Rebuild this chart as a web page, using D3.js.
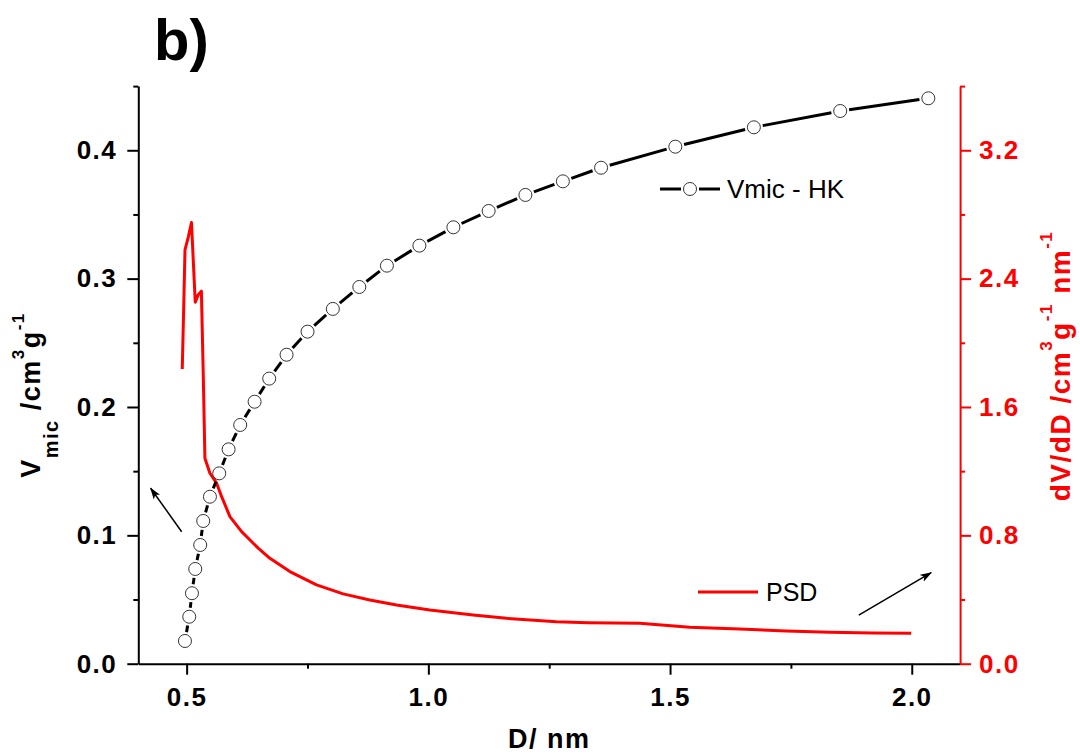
<!DOCTYPE html>
<html>
<head>
<meta charset="utf-8">
<script src="https://cdn.jsdelivr.net/npm/d3@7"></script>
<style>
  body { margin: 0; background: #fff; }
  svg { display: block; font-family: "Liberation Sans", Arial, sans-serif; }
</style>
</head>
<body>
<svg id="chart" width="1080" height="754"></svg>
<script>
// Horvath-Kawazoe cumulative micropore volume, cm3/g, against pore width D (nm)
const hkD = [0.4965, 0.5054, 0.5110, 0.5178, 0.5281, 0.5343, 0.5482, 0.5674, 0.5868,
             0.6108, 0.6406, 0.6708, 0.7067, 0.7501, 0.8024, 0.8572, 0.9143, 0.9815,
             1.0518, 1.1247, 1.2008, 1.2783, 1.3573, 1.5109, 1.6734, 1.8520, 2.0343];
const hkV = [0.0177, 0.0366, 0.0549, 0.0738, 0.0925, 0.1112, 0.1301, 0.1483, 0.1670,
             0.1860, 0.2041, 0.2221, 0.2407, 0.2587, 0.2764, 0.2935, 0.3101, 0.3257,
             0.3400, 0.3527, 0.3652, 0.3758, 0.3864, 0.4028, 0.4179, 0.4306, 0.4405];

// Pore size distribution dV/dD, cm3 g-1 nm-1
const psdD = [0.4909, 0.4938, 0.4966, 0.5035, 0.5100, 0.5178, 0.5240, 0.5305, 0.5343,
              0.5378, 0.5482, 0.5620, 0.5724, 0.5895, 0.6137, 0.6480, 0.6722, 0.7135,
              0.7687, 0.8237, 0.8789, 0.9341, 1.0030, 1.0925, 1.1615, 1.2649, 1.3302,
              1.4371, 1.5405, 1.6439, 1.7404, 1.8299, 1.9194, 1.9988];
const psdVal = [1.837, 2.205, 2.580, 2.660, 2.750, 2.253, 2.300, 2.322, 1.812,
                1.281, 1.187, 1.125, 1.041, 0.917, 0.823, 0.720, 0.657, 0.574,
                0.491, 0.435, 0.397, 0.366, 0.335, 0.304, 0.283, 0.262, 0.256,
                0.252, 0.227, 0.216, 0.204, 0.196, 0.191, 0.190];

// Axis ticks
const xTicks = [0.5, 1.0, 1.5, 2.0];
const xMinor = [0.75, 1.25, 1.75];
const yLeftTicks = [0.0, 0.1, 0.2, 0.3, 0.4];
const yLeftMinor = [0.05, 0.15, 0.25, 0.35, 0.45];
const yRightTicks = [0.0, 0.8, 1.6, 2.4, 3.2];
const yRightMinor = [0.4, 1.2, 2.0, 2.8, 3.6];

// Arrows pointing each curve to its axis: [D0, v0, D1, v1] in left-axis units
const arrowLeft = [0.4897, 0.1028, 0.4256, 0.1367];
const arrowRight = [1.8904, 0.0379, 2.0401, 0.0709];

const RED = "#ff0000";
const svg = d3.select("#chart");

const plot = { left: 138.3, right: 960.1, top: 86.1, bottom: 663.7 };
const x = d3.scaleLinear().domain([0.4, 2.1]).range([plot.left, plot.right]);
const yL = d3.scaleLinear().domain([0, 0.45]).range([plot.bottom, plot.top]);
const yR = d3.scaleLinear().domain([0, 3.6]).range([plot.bottom, plot.top]);

const fmt = d3.format(".1f");
const tickFont = (g, color) => {
  g.selectAll("text")
    .attr("fill", color)
    .style("font-size", "26px")
    .style("font-weight", "bold")
    .style("letter-spacing", "1.5px");
  g.selectAll("line").attr("stroke", color).attr("stroke-width", 2);
  g.select(".domain").attr("stroke", color).attr("stroke-width", 2);
};

// Bottom axis
const gx = svg.append("g").attr("transform", `translate(0,${plot.bottom})`)
  .call(d3.axisBottom(x).tickValues(xTicks).tickFormat(fmt)
    .tickSize(11).tickSizeOuter(0).tickPadding(13));
tickFont(gx, "#000");
svg.append("g").attr("transform", `translate(0,${plot.bottom})`)
  .call(d3.axisBottom(x).tickValues(xMinor).tickFormat("").tickSize(5).tickSizeOuter(0))
  .call(g => { g.select(".domain").remove(); g.selectAll("line").attr("stroke", "#000").attr("stroke-width", 2); });

// Left axis
const gl = svg.append("g").attr("transform", `translate(${plot.left},0)`)
  .call(d3.axisLeft(yL).tickValues(yLeftTicks).tickFormat(fmt)
    .tickSize(11).tickSizeOuter(0).tickPadding(10));
tickFont(gl, "#000");
svg.append("g").attr("transform", `translate(${plot.left},0)`)
  .call(d3.axisLeft(yL).tickValues(yLeftMinor).tickFormat("").tickSize(5).tickSizeOuter(0))
  .call(g => { g.select(".domain").remove(); g.selectAll("line").attr("stroke", "#000").attr("stroke-width", 2); });

// Right axis (red)
const gr = svg.append("g").attr("transform", `translate(${plot.right},0)`)
  .call(d3.axisRight(yR).tickValues(yRightTicks).tickFormat(fmt)
    .tickSize(11).tickSizeOuter(0).tickPadding(8));
tickFont(gr, RED);
svg.append("g").attr("transform", `translate(${plot.right},0)`)
  .call(d3.axisRight(yR).tickValues(yRightMinor).tickFormat("").tickSize(5).tickSizeOuter(0))
  .call(g => { g.select(".domain").remove(); g.selectAll("line").attr("stroke", RED).attr("stroke-width", 2); });

// PSD curve
const psdLine = d3.line().x((d, i) => x(psdD[i])).y(d => yR(d));
svg.append("path")
  .attr("d", psdLine(psdVal))
  .attr("fill", "none")
  .attr("stroke", RED)
  .attr("stroke-width", 3)
  .attr("stroke-linejoin", "round");

// HK curve: line segments broken around each open circle
const R = 6.5, GAP = 2.5;
const pts = hkD.map((d, i) => [x(d), yL(hkV[i])]);
const segs = [];
for (let i = 0; i < pts.length - 1; i++) {
  const [x1, y1] = pts[i], [x2, y2] = pts[i + 1];
  const len = Math.hypot(x2 - x1, y2 - y1);
  const cut = R + GAP;
  if (len > 2 * cut + 1) {
    const ux = (x2 - x1) / len, uy = (y2 - y1) / len;
    segs.push([x1 + ux * cut, y1 + uy * cut, x2 - ux * cut, y2 - uy * cut]);
  }
}
svg.append("g").selectAll("line").data(segs).join("line")
  .attr("x1", d => d[0]).attr("y1", d => d[1])
  .attr("x2", d => d[2]).attr("y2", d => d[3])
  .attr("stroke", "#000").attr("stroke-width", 3);
svg.append("g").selectAll("circle").data(hkV).join("circle")
  .attr("cx", (d, i) => x(hkD[i]))
  .attr("cy", d => yL(d))
  .attr("r", R)
  .attr("fill", "#fff")
  .attr("stroke", "#333")
  .attr("stroke-width", 1);

// Arrows
const defs = svg.append("defs");
defs.append("marker")
  .attr("id", "head")
  .attr("viewBox", "0 0 12 8")
  .attr("refX", 11).attr("refY", 4)
  .attr("markerWidth", 12).attr("markerHeight", 8)
  .attr("markerUnits", "userSpaceOnUse")
  .attr("orient", "auto")
  .append("path").attr("d", "M0,0 L12,4 L0,8 L3,4 Z").attr("fill", "#000");
[arrowLeft, arrowRight].forEach(a => {
  svg.append("line")
    .attr("x1", x(a[0])).attr("y1", yL(a[1]))
    .attr("x2", x(a[2])).attr("y2", yL(a[3]))
    .attr("stroke", "#000").attr("stroke-width", 1.5)
    .attr("marker-end", "url(#head)");
});

// Legends
const lg1 = svg.append("g").attr("transform", "translate(660,189)");
lg1.append("line").attr("x1", 0).attr("x2", 21).attr("stroke", "#000").attr("stroke-width", 3);
lg1.append("line").attr("x1", 39).attr("x2", 60).attr("stroke", "#000").attr("stroke-width", 3);
lg1.append("circle").attr("cx", 30).attr("r", R).attr("fill", "#fff").attr("stroke", "#333").attr("stroke-width", 1);
lg1.append("text").attr("x", 67).attr("y", 9).style("font-size", "26px").text("Vmic - HK");

const lg2 = svg.append("g").attr("transform", "translate(698,592)");
lg2.append("line").attr("x1", 0).attr("x2", 60).attr("stroke", RED).attr("stroke-width", 3);
lg2.append("text").attr("x", 68).attr("y", 9).style("font-size", "25px").text("PSD");

// Panel label
svg.append("text").attr("x", 154).attr("y", 60)
  .style("font-size", "58px").style("font-weight", "bold").text("b)");

// X title
svg.append("text").attr("x", (plot.left + plot.right) / 2).attr("y", 748)
  .attr("text-anchor", "middle")
  .style("font-size", "27px").style("font-weight", "bold").style("letter-spacing", "1.5px")
  .text("D/ nm");

// Left Y title: V_mic /cm^3 g^-1
const tl = svg.append("text")
  .attr("transform", "translate(40,395) rotate(-90)")
  .attr("text-anchor", "middle")
  .style("font-size", "27px").style("font-weight", "bold").style("letter-spacing", "1.5px");
tl.append("tspan").text("V");
tl.append("tspan").attr("dy", 18).style("font-size", "20px").text("mic");
tl.append("tspan").attr("dy", -18).text(" /cm");
tl.append("tspan").attr("dy", -16).style("font-size", "17px").text("3");
tl.append("tspan").attr("dy", 16).text("g");
tl.append("tspan").attr("dy", -16).style("font-size", "17px").text("-1");

// Right Y title: dV/dD /cm^3 g^-1 nm^-1
const tr = svg.append("text")
  .attr("transform", "translate(1070,366) rotate(-90)")
  .attr("text-anchor", "middle")
  .attr("fill", RED)
  .style("font-size", "28px").style("font-weight", "bold").style("letter-spacing", "1.5px");
tr.append("tspan").text("dV/dD /cm");
tr.append("tspan").attr("dy", -18).style("font-size", "17px").text("3");
tr.append("tspan").attr("dy", 18).text("g");
tr.append("tspan").attr("dy", -18).style("font-size", "17px").text("-1");
tr.append("tspan").attr("dy", 18).text(" nm");
tr.append("tspan").attr("dy", -18).style("font-size", "17px").text("-1");
</script>
</body>
</html>
